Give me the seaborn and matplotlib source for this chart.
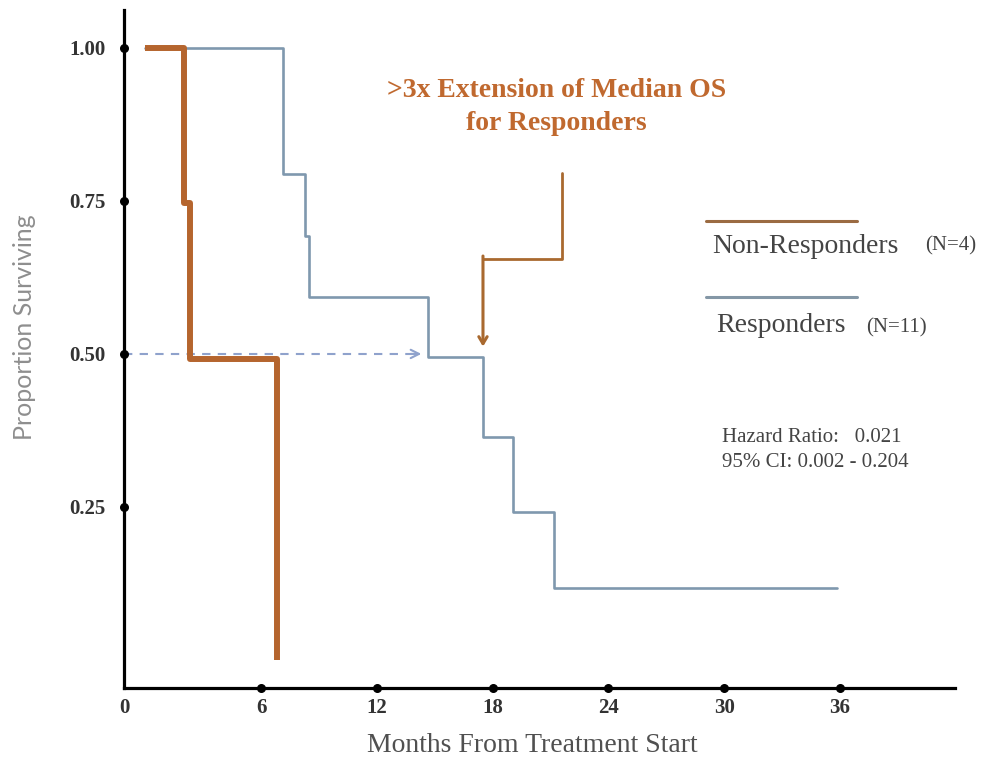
import numpy as np
import pandas as pd
import seaborn as sns
import matplotlib.pyplot as plt

sns.set_style('white')
plt.rcParams['font.family'] = ['Liberation Serif', 'DejaVu Serif']

# survival curves (months, proportion surviving)
nonresp_months = [0, 2.01, 2.32, 6.83]
nonresp_surv = [1.0, 0.747, 0.492, 0.0]
resp_months = [0, 7.14, 8.28, 8.49, 14.65, 17.50, 19.05, 21.18, 35.85]
resp_surv = [1.0, 0.794, 0.693, 0.593, 0.495, 0.364, 0.242, 0.118, 0.118]

x_ticks = [6, 12, 18, 24, 30, 36]
y_ticks = [0.25, 0.50, 0.75, 1.00]
y_ticklabels = ['0.25', '0.50', '0.75', '1.00']

hazard_ratio = '0.021'
ci_text = '0.002 - 0.204'

orange = '#B5652E'
blue = '#7F98AE'

nonresp = pd.DataFrame({'months': nonresp_months, 'surv': nonresp_surv})
resp = pd.DataFrame({'months': resp_months, 'surv': resp_surv})

fig = plt.figure(figsize=(9.85, 7.61), dpi=100)
ax = fig.add_axes([0.1259, 0.0959, 0.8437, 0.8909])
xmin, xmax = -1.1, 41.96
ymin, ymax = -0.046, 1.062

sns.lineplot(data=resp, x='months', y='surv', drawstyle='steps-post', estimator=None,
             sort=False, color=blue, lw=1.9, ax=ax, zorder=3)
sns.lineplot(data=nonresp, x='months', y='surv', drawstyle='steps-post', estimator=None,
             sort=False, color=orange, lw=4.3, ax=ax, zorder=4, solid_capstyle='butt')

ax.set_xlim(xmin, xmax)
ax.set_ylim(ymin, ymax)
for s in ['top', 'right']:
    ax.spines[s].set_visible(False)
for s in ['left', 'bottom']:
    ax.spines[s].set_color('black')
    ax.spines[s].set_linewidth(2.3)
    ax.spines[s].set_zorder(6)

ax.set_xticks(x_ticks)
ax.set_xticklabels([str(t) for t in x_ticks], fontweight='bold', fontsize=15, color='#333333')
ax.set_yticks(y_ticks)
ax.set_yticklabels(y_ticklabels, fontweight='bold', fontsize=15, color='#333333')
ax.tick_params(axis='x', length=0, pad=7)
ax.tick_params(axis='y', length=0, pad=13)
ax.set_xlabel('')
ax.set_ylabel('')
ax.text(xmin, ymin - 0.016, '0', ha='center', va='top', fontweight='bold', fontsize=15,
        color='#333333')

# dots on the axes at tick positions
ax.scatter(x_ticks, [ymin] * len(x_ticks), s=30, color='black', clip_on=False, zorder=7)
ax.scatter([xmin] * len(y_ticks), y_ticks, s=30, color='black', clip_on=False, zorder=7)

# median dashed arrow
ax.plot([xmin, 14.0], [0.5, 0.5], ls='--', dashes=(4, 3.5), color='#8FA2CC', lw=1.5, zorder=2)
ax.annotate('', xy=(14.45, 0.5), xytext=(13.6, 0.5),
            arrowprops=dict(arrowstyle='->,head_length=0.6,head_width=0.3', color='#8FA2CC', lw=1.5))

# orange callout arrow
ax.plot([21.6, 21.6, 17.5], [0.796, 0.655, 0.655], color='#A9692F', lw=2, zorder=5)
ax.annotate('', xy=(17.5, 0.512), xytext=(17.5, 0.66),
            arrowprops=dict(arrowstyle='->,head_length=0.5,head_width=0.3', color='#A9692F', lw=2.2,
                            shrinkA=0, shrinkB=0), zorder=5)

ax.text(21.3, 0.904, '>3x Extension of Median OS\nfor Responders', ha='center', va='center',
        fontsize=20, fontweight='bold', color='#C0692F', linespacing=1.4)

# hand made legend
ax.plot([29.06, 36.88], [0.717, 0.717], color='#9B6B42', lw=2.2)
ax.plot([29.06, 36.88], [0.593, 0.593], color='#8497A6', lw=2.2)
ax.text(29.4, 0.675, 'Non-Responders', ha='left', va='center', fontsize=20, color='#444444')
ax.text(40.4, 0.677, '(N=4)', ha='left', va='center', fontsize=15, color='#444444')
ax.text(29.6, 0.547, 'Responders', ha='left', va='center', fontsize=20, color='#444444')
ax.text(37.35, 0.542, '(N=11)', ha='left', va='center', fontsize=15, color='#444444')

ax.text(29.9, 0.364, 'Hazard Ratio:   ' + hazard_ratio, ha='left', va='center', fontsize=15,
        color='#444444')
ax.text(29.9, 0.322, '95% CI: ' + ci_text, ha='left', va='center', fontsize=15, color='#444444')

fig.text(532 / 985, 1 - 745 / 761, 'Months From Treatment Start', ha='center', va='center',
         fontsize=20, color='#505050')
fig.text(25 / 985, 1 - 327 / 761, 'Proportion Surviving', ha='center', va='center', rotation=90,
         fontsize=18, color='#8E8E8E', family=['Lato', 'DejaVu Sans'])

fig.savefig('out.png', dpi=100)
